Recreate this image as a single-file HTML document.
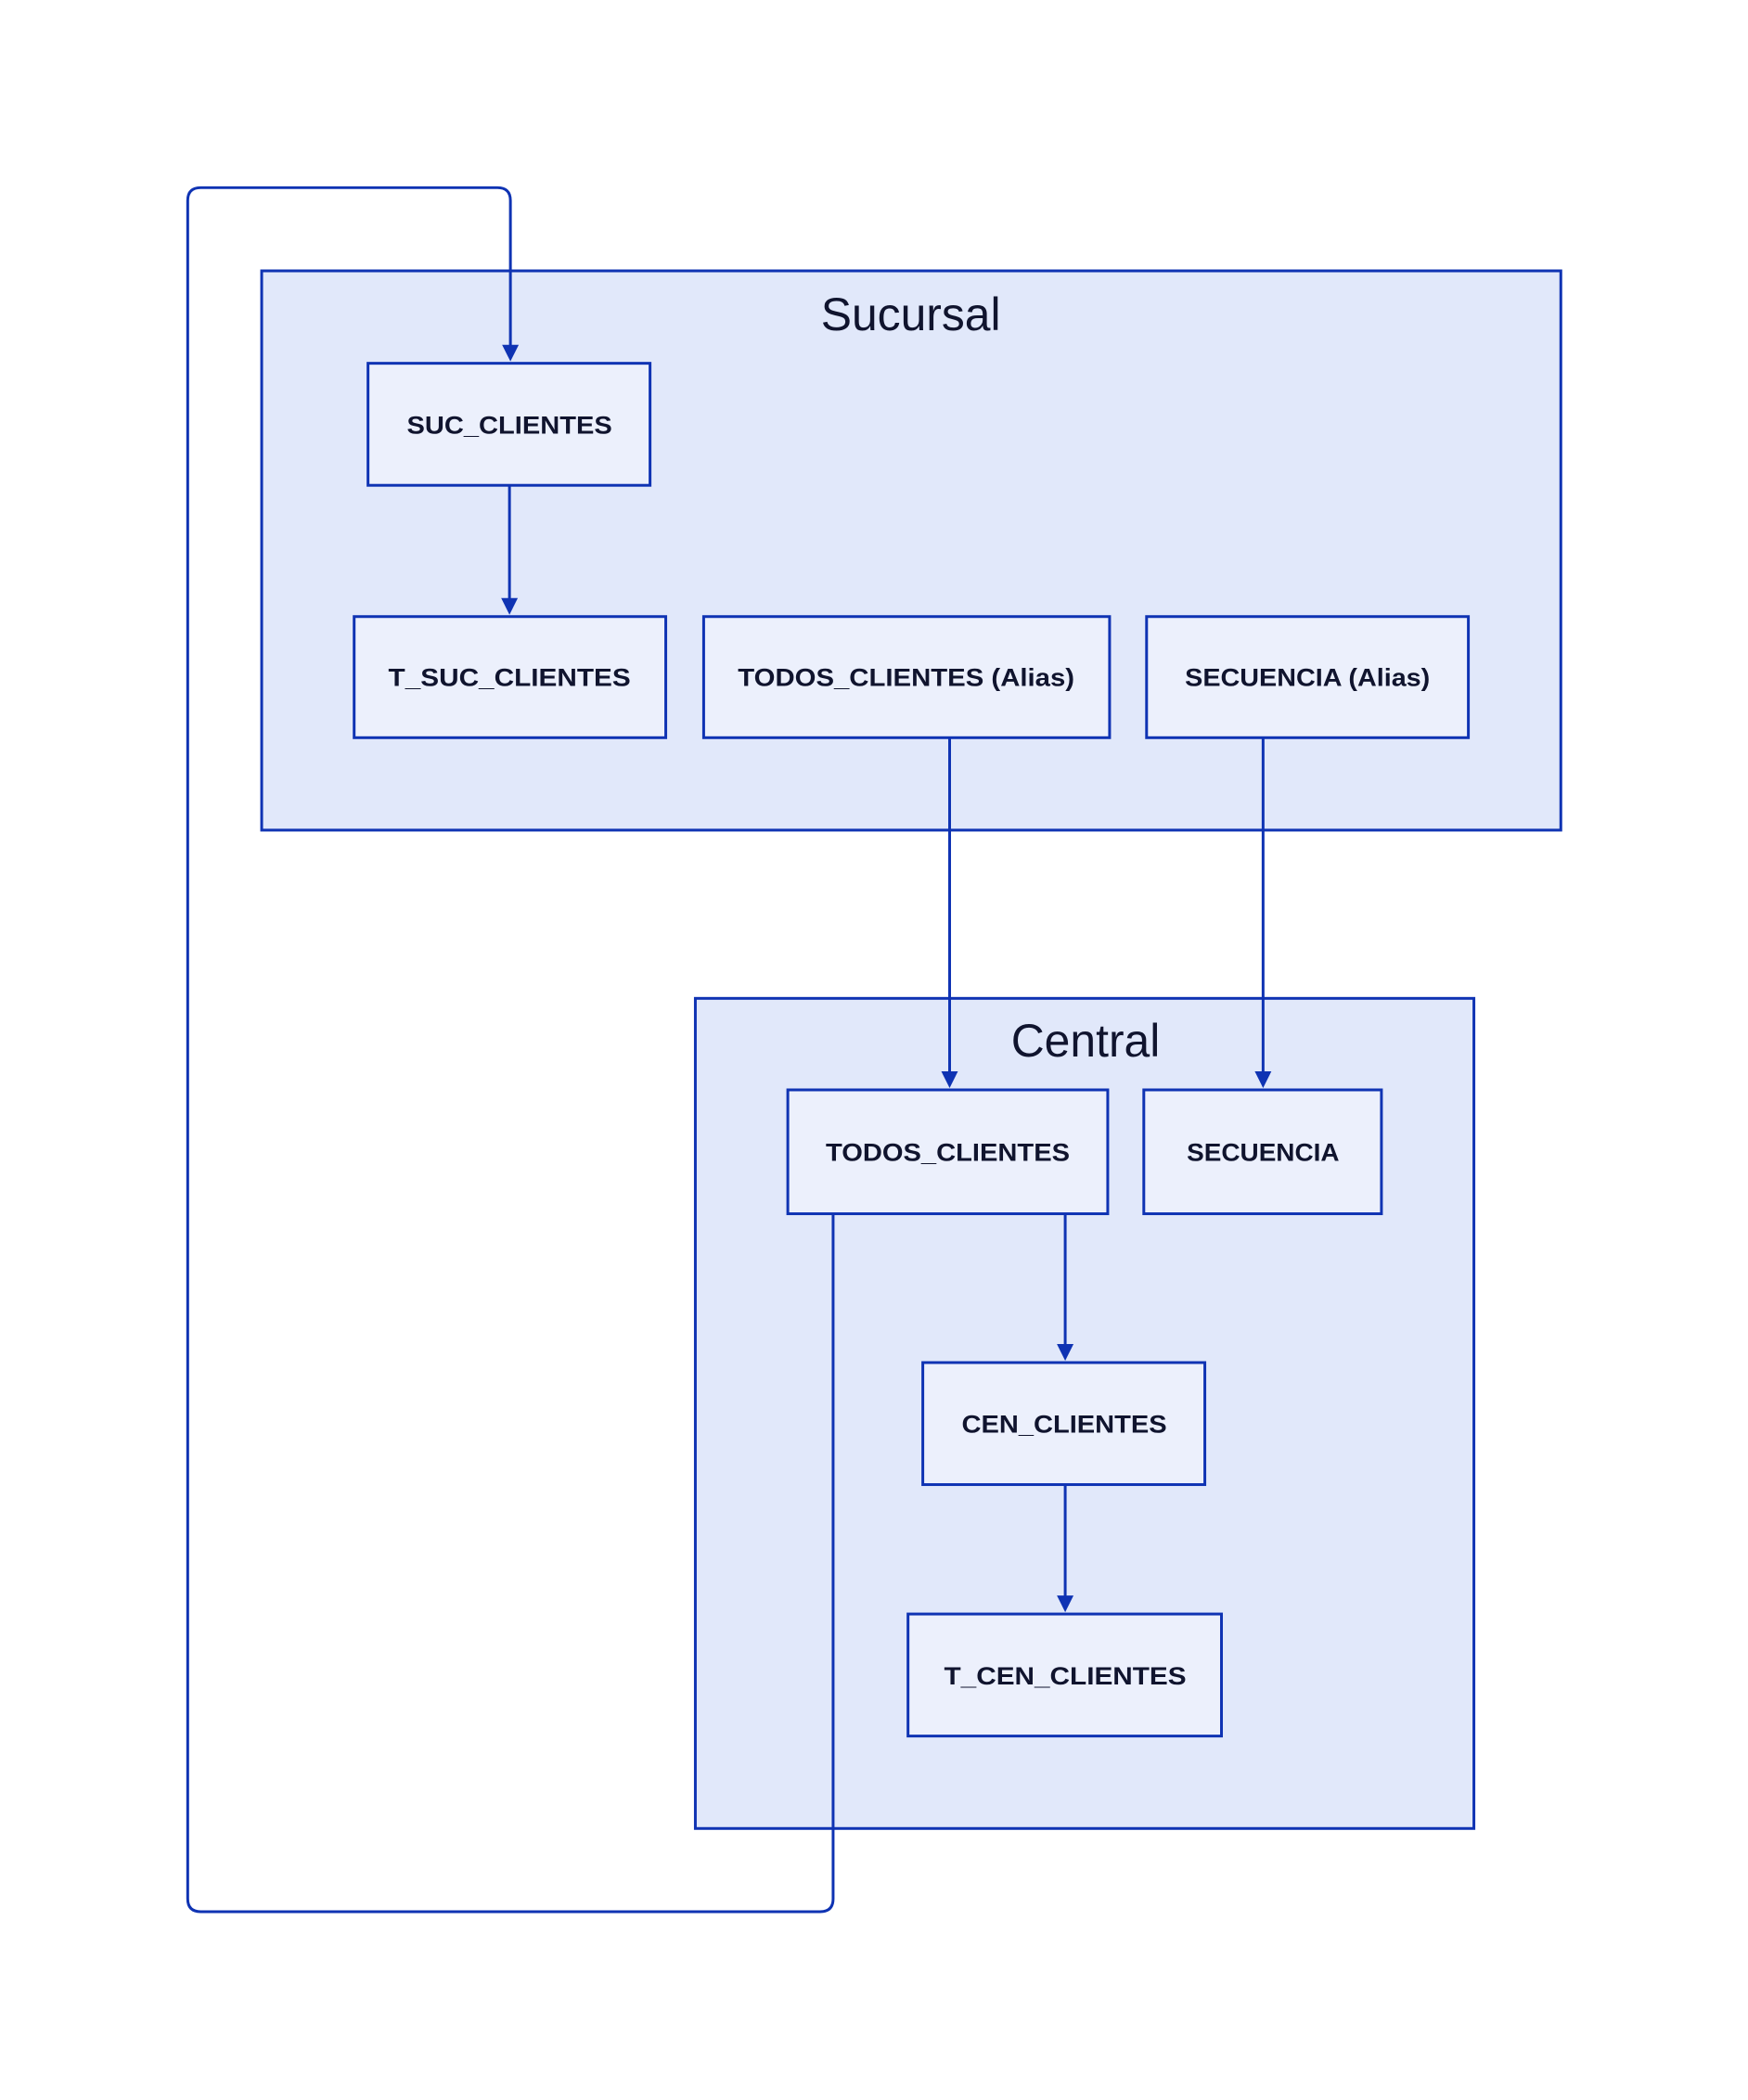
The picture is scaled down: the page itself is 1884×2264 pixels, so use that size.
<!DOCTYPE html>
<html><head><meta charset="utf-8"><style>html,body{margin:0;padding:0;background:#fff}svg{display:block}</style></head>
<body>
<svg width="1884" height="2264" viewBox="0 0 1884 2264" xmlns="http://www.w3.org/2000/svg">
<g transform="scale(0.9966)">
<g stroke="#0f33b3" stroke-width="3">
<rect x="283" y="293" width="1405" height="605" fill="#e1e8fa"/>
<rect x="752" y="1080" width="842" height="898" fill="#e1e8fa"/>
</g>
<g font-family="'Liberation Sans', sans-serif" fill="#10142e" text-anchor="middle">
<text x="985" y="357" font-size="50">Sucursal</text>
<text x="1174" y="1143" font-size="50">Central</text>
</g>
<g stroke="#0f33b3" stroke-width="3" fill="#ecf0fc">
<rect x="398" y="393" width="305" height="132"/>
<rect x="383" y="667" width="337" height="131"/>
<rect x="761" y="667" width="439" height="131"/>
<rect x="1240" y="667" width="348" height="131"/>
<rect x="852" y="1179" width="346" height="134"/>
<rect x="1237" y="1179" width="257" height="134"/>
<rect x="998" y="1474" width="305" height="132"/>
<rect x="982" y="1746" width="339" height="132"/>
</g>
<g fill="none" stroke="#0f33b3" stroke-width="3">
<path d="M901 1313 V2054 Q901 2068 887 2068 H217 Q203 2068 203 2054 V217 Q203 203 217 203 H538 Q552 203 552 217 V375"/>
<path d="M551 525 V649"/>
<path d="M1027 798 V1161"/>
<path d="M1366 798 V1161"/>
<path d="M1152 1313 V1456"/>
<path d="M1152 1606 V1728"/>
</g>
<g fill="#0f33b3">
<path d="M543 373 L561 373 L552 391 Z"/>
<path d="M542 647 L560 647 L551 665 Z"/>
<path d="M1018 1159 L1036 1159 L1027 1177 Z"/>
<path d="M1357 1159 L1375 1159 L1366 1177 Z"/>
<path d="M1143 1454 L1161 1454 L1152 1472 Z"/>
<path d="M1143 1726 L1161 1726 L1152 1744 Z"/>
</g>
<g font-family="'Liberation Sans', sans-serif" font-weight="bold" font-size="27" fill="#10142e" text-anchor="middle">
<text x="551" y="469" textLength="222" lengthAdjust="spacingAndGlyphs">SUC_CLIENTES</text>
<text x="551" y="742" textLength="262" lengthAdjust="spacingAndGlyphs">T_SUC_CLIENTES</text>
<text x="980" y="742" textLength="364" lengthAdjust="spacingAndGlyphs">TODOS_CLIENTES (Alias)</text>
<text x="1414" y="742" textLength="265" lengthAdjust="spacingAndGlyphs">SECUENCIA (Alias)</text>
<text x="1025" y="1256" textLength="264" lengthAdjust="spacingAndGlyphs">TODOS_CLIENTES</text>
<text x="1366" y="1256" textLength="165" lengthAdjust="spacingAndGlyphs">SECUENCIA</text>
<text x="1151" y="1550" textLength="222" lengthAdjust="spacingAndGlyphs">CEN_CLIENTES</text>
<text x="1152" y="1822" textLength="262" lengthAdjust="spacingAndGlyphs">T_CEN_CLIENTES</text>
</g>
</g>
</svg>
</body></html>
